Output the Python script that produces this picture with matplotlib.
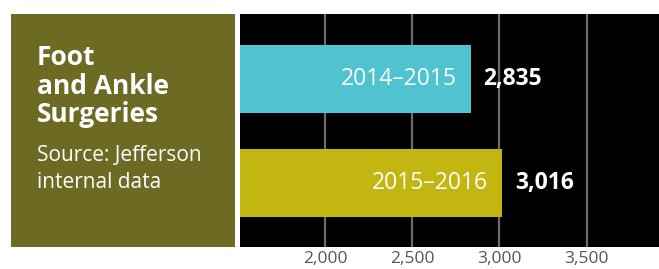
import matplotlib
matplotlib.use("Agg")
import matplotlib.pyplot as plt
from matplotlib.patches import Rectangle

periods = ["2014–2015", "2015–2016"]
surgeries = [2835, 3016]
value_labels = ["2,835", "3,016"]
tick_values = [2000, 2500, 3000, 3500]
tick_labels = ["2,000", "2,500", "3,000", "3,500"]
title_lines = ["Foot", "and Ankle", "Surgeries"]
source_lines = ["Source: Jefferson", "internal data"]

bar_colors = ["#4fc3d0", "#c3b610"]
olive = "#6d6a24"
FONT = "Open Sans"

W, H = 659, 269
fig = plt.figure(figsize=(W / 100, H / 100), dpi=100)
fig.patch.set_facecolor("white")

# olive side panel
fig.patches.append(Rectangle((11 / W, 1 - 246.7 / H), 224 / W, 232.7 / H,
                             transform=fig.transFigure, facecolor=olive,
                             edgecolor="none", zorder=0))

ax = fig.add_axes([240 / W, 1 - 246.7 / H, 1 - 240 / W, 232.7 / H])
ax.set_facecolor("black")
ypos = list(range(len(periods)))
ax.barh(ypos, surgeries, height=0.654, color=bar_colors, zorder=3, left=0)
ax.set_xlim(1513, 3915)
ax.set_ylim(1.6125, -0.625)
for t in tick_values:
    ax.axvline(t, color="#6b6b6b", lw=1.6, zorder=1)
ax.set_xticks(tick_values)
ax.set_xticklabels(tick_labels, fontsize=12.5, color="#5a5555", family=FONT)
ax.tick_params(axis="x", length=0, pad=3)
ax.set_yticks([])
for s in ax.spines.values():
    s.set_visible(False)

for y, v, p, lab in zip(ypos, surgeries, periods, value_labels):
    ax.annotate(p, (v, y), xytext=(-14, 0), textcoords="offset pixels",
                ha="right", va="center", color="white", fontsize=16.5,
                family=FONT, zorder=4)
    ax.annotate(lab, (v, y), xytext=(13, 0), textcoords="offset pixels",
                ha="left", va="center", color="white", fontsize=16.5,
                family=FONT, fontweight="bold", zorder=4)

for i, line in enumerate(title_lines):
    fig.text(36.7 / W, 1 - (65 + 28.5 * i) / H, line, color="white",
             fontsize=19, family=FONT, fontweight="bold", va="baseline",
             ha="left")
for i, line in enumerate(source_lines):
    fig.text(36.7 / W, 1 - (161 + 26.7 * i) / H, line, color="white",
             fontsize=15, family=FONT, va="baseline", ha="left")

fig.savefig("out.png", dpi=100, facecolor="white")
